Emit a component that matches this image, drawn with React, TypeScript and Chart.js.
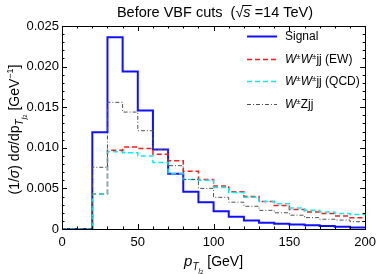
import React, { useEffect, useRef } from 'react';
import { Chart, registerables } from 'chart.js';

Chart.register(...registerables);

// Bin left edges (GeV) plus the final right edge
const binEdges = [0, 10, 20, 30, 40, 50, 60, 70, 80, 90, 100, 110, 120, 130, 140, 150, 160, 170, 180, 190, 200];

const signal = [0, 0, 0.0119, 0.0236, 0.0194, 0.0146, 0.0098, 0.0068, 0.0046, 0.0033, 0.0022, 0.0015, 0.00105, 0.00076, 0.00066, 0.00055, 0.00045, 0.00036, 0.00028, 0.00018];
const wwEW = [0, 0, 0.0043, 0.0097, 0.0101, 0.0099, 0.0092, 0.0084, 0.0071, 0.0061, 0.0053, 0.0046, 0.0040, 0.0034, 0.0029, 0.0024, 0.0021, 0.0019, 0.0016, 0.0014];
const wwQCD = [0, 0, 0.0043, 0.0095, 0.0094, 0.0090, 0.0082, 0.0068, 0.0061, 0.0060, 0.0051, 0.0045, 0.0039, 0.0034, 0.0031, 0.0026, 0.0023, 0.0021, 0.0019, 0.0018];
const wzjj = [0, 0, 0.0076, 0.0156, 0.0144, 0.0121, 0.0098, 0.0078, 0.0061, 0.0050, 0.0039, 0.0033, 0.0028, 0.0023, 0.0020, 0.0017, 0.0014, 0.0012, 0.0011, 0.0009];

const xTickValues = [0, 50, 100, 150, 200];
const yTickValues = [0, 0.005, 0.01, 0.015, 0.02, 0.025];

const FONT = '"Liberation Sans", Arial, Helvetica, sans-serif';

const COLORS = {
  signal: '#1010ff',
  ew: '#ff1a1a',
  qcd: '#00f0f8',
  wz: '#505050',
};

function toSteps(vals: number[]) {
  return binEdges.map((x, i) => ({ x, y: vals[Math.min(i, vals.length - 1)] }));
}

type Part = { t: string; size: number; italic?: boolean; dy?: number; overline?: boolean };

function fontOf(p: Part) {
  return `${p.italic ? 'italic ' : ''}${p.size}px ${FONT}`;
}

function drawParts(ctx: CanvasRenderingContext2D, x: number, y: number, parts: Part[], align: 'left' | 'center') {
  let w = 0;
  for (const p of parts) {
    ctx.font = fontOf(p);
    w += ctx.measureText(p.t).width;
  }
  let cx = align === 'center' ? x - w / 2 : x;
  ctx.textAlign = 'left';
  ctx.textBaseline = 'alphabetic';
  for (const p of parts) {
    ctx.font = fontOf(p);
    const pw = ctx.measureText(p.t).width;
    ctx.fillText(p.t, cx, y + (p.dy || 0));
    if (p.overline) {
      ctx.save();
      ctx.lineWidth = 1;
      ctx.beginPath();
      const oy = Math.round(y - p.size * 0.86) + 0.5;
      ctx.moveTo(cx - 1, oy);
      ctx.lineTo(cx + pw + 1, oy);
      ctx.stroke();
      ctx.restore();
    }
    cx += pw;
  }
}

const legendItems: { parts: Part[]; color: string; dash: number[]; width: number }[] = [
  { parts: [{ t: 'Signal', size: 12 }], color: COLORS.signal, dash: [], width: 2 },
  {
    parts: [
      { t: 'W', size: 12, italic: true },
      { t: '±', size: 8, dy: -4 },
      { t: 'W', size: 12, italic: true },
      { t: '±', size: 8, dy: -4 },
      { t: 'jj (EW)', size: 12 },
    ],
    color: COLORS.ew,
    dash: [5, 3],
    width: 1.5,
  },
  {
    parts: [
      { t: 'W', size: 12, italic: true },
      { t: '±', size: 8, dy: -4 },
      { t: 'W', size: 12, italic: true },
      { t: '±', size: 8, dy: -4 },
      { t: 'jj (QCD)', size: 12 },
    ],
    color: COLORS.qcd,
    dash: [5, 3],
    width: 1.5,
  },
  {
    parts: [
      { t: 'W', size: 12, italic: true },
      { t: '±', size: 8, dy: -4 },
      { t: 'Zjj', size: 12 },
    ],
    color: COLORS.wz,
    dash: [4, 2, 1, 2],
    width: 1,
  },
];

const decorPlugin = {
  id: 'decor',
  afterDraw(chart: any) {
    const ctx: CanvasRenderingContext2D = chart.ctx;
    const { left, right, top, bottom } = chart.chartArea;
    const xs = chart.scales.x;
    const ys = chart.scales.y;
    ctx.save();
    ctx.fillStyle = '#000';
    ctx.strokeStyle = '#000';

    // frame
    ctx.lineWidth = 1;
    ctx.strokeRect(Math.round(left) + 0.5, Math.round(top) + 0.5, Math.round(right - left), Math.round(bottom - top));

    // inward ticks on all sides
    ctx.beginPath();
    for (let v = 0; v <= 200.001; v += 10) {
      const px = Math.round(xs.getPixelForValue(v)) + 0.5;
      const len = Math.abs(v % 50) < 0.001 ? 5 : 2.5;
      ctx.moveTo(px, bottom);
      ctx.lineTo(px, bottom - len);
      ctx.moveTo(px, top);
      ctx.lineTo(px, top + len);
    }
    for (let i = 0; i <= 25; i++) {
      const v = i * 0.001;
      const py = Math.round(ys.getPixelForValue(v)) + 0.5;
      const len = i % 5 === 0 ? 5 : 2.5;
      ctx.moveTo(left, py);
      ctx.lineTo(left + len, py);
      ctx.moveTo(right, py);
      ctx.lineTo(right - len, py);
    }
    ctx.stroke();

    // title
    const tParts: Part[] = [
      { t: 'Before VBF cuts  (', size: 14.5 },
      { t: '√', size: 14.5 },
      { t: 's', size: 14.5, italic: true, overline: true },
      { t: ' =14 TeV)', size: 14.5 },
    ];
    drawParts(ctx, 215, 17, tParts, 'center');

    // x-axis title
    drawParts(
      ctx,
      (left + right) / 2,
      266,
      [
        { t: 'p', size: 15, italic: true },
        { t: 'T', size: 10, italic: true, dy: 4 },
        { t: 'j', size: 7, italic: true, dy: 7 },
        { t: '2', size: 6, dy: 8 },
        { t: ' [GeV]', size: 14 },
      ],
      'center'
    );

    // y-axis title (rotated)
    ctx.save();
    ctx.translate(19, (top + bottom) / 2 + 2);
    ctx.rotate(-Math.PI / 2);
    drawParts(
      ctx,
      0,
      0,
      [
        { t: '(1/', size: 14 },
        { t: 'σ', size: 14, italic: true },
        { t: ') d', size: 14 },
        { t: 'σ', size: 14, italic: true },
        { t: '/dp', size: 14 },
        { t: 'T', size: 10, italic: true, dy: 4 },
        { t: 'j', size: 7, italic: true, dy: 7 },
        { t: '2', size: 6, dy: 8 },
        { t: ' [GeV', size: 14 },
        { t: '−1', size: 9, dy: -6 },
        { t: ']', size: 14 },
      ],
      'center'
    );
    ctx.restore();

    // legend
    const rowY = [36, 58.5, 81, 103.5];
    legendItems.forEach((it, i) => {
      const y = rowY[i];
      ctx.save();
      ctx.strokeStyle = it.color;
      ctx.lineWidth = it.width;
      ctx.setLineDash(it.dash);
      ctx.beginPath();
      ctx.moveTo(247, Math.round(y) + 0.5);
      ctx.lineTo(277, Math.round(y) + 0.5);
      ctx.stroke();
      ctx.restore();
      ctx.fillStyle = '#000';
      drawParts(ctx, 285, y + 4, it.parts, 'left');
    });

    ctx.restore();
  },
};

export default function App() {
  const canvasRef = useRef<HTMLCanvasElement | null>(null);

  useEffect(() => {
    if (!canvasRef.current) return;
    const mk = (label: string, vals: number[], color: string, dash: number[], width: number, order: number) => ({
      label,
      data: toSteps(vals),
      borderColor: color,
      backgroundColor: color,
      borderWidth: width,
      borderDash: dash,
      stepped: 'before' as const,
      pointRadius: 0,
      fill: false,
      order,
    });
    const chart = new Chart(canvasRef.current, {
      type: 'line',
      data: {
        datasets: [
          mk('Signal', signal, COLORS.signal, [], 2, 4),
          mk('W±W±jj (EW)', wwEW, COLORS.ew, [5, 3], 1.5, 3),
          mk('W±W±jj (QCD)', wwQCD, COLORS.qcd, [5, 3], 1.5, 2),
          mk('W±Zjj', wzjj, COLORS.wz, [4, 2, 1, 2], 1, 1),
        ],
      },
      options: {
        animation: false,
        responsive: false,
        maintainAspectRatio: false,
        layout: { padding: { left: 0, right: 12, top: 26, bottom: 0 } },
        plugins: {
          legend: { display: false },
          title: { display: false },
          tooltip: { enabled: false },
        },
        scales: {
          x: {
            type: 'linear',
            min: 0,
            max: 200,
            afterBuildTicks: (scale: any) => {
              scale.ticks = xTickValues.map((v) => ({ value: v }));
            },
            afterFit: (scale: any) => {
              scale.height = 45;
            },
            grid: { display: false, drawTicks: false },
            border: { display: false },
            ticks: {
              color: '#000',
              padding: 6,
              font: { family: FONT, size: 13 },
              maxRotation: 0,
              callback: (v: any) => String(v),
            },
          },
          y: {
            type: 'linear',
            min: 0,
            max: 0.025,
            afterBuildTicks: (scale: any) => {
              scale.ticks = yTickValues.map((v) => ({ value: v }));
            },
            afterFit: (scale: any) => {
              scale.width = 62;
            },
            grid: { display: false, drawTicks: false },
            border: { display: false },
            ticks: {
              color: '#000',
              padding: 3,
              font: { family: FONT, size: 13 },
              callback: (v: any) => (Number(v) === 0 ? '0' : Number(v).toFixed(3)),
            },
          },
        },
      },
      plugins: [decorPlugin],
    });
    return () => chart.destroy();
  }, []);

  return (
    <div style={{ position: 'fixed', left: 0, top: 0, width: 382, height: 274, background: '#fff' }}>
      <canvas ref={canvasRef} width={382} height={274} style={{ display: 'block', width: 382, height: 274 }} />
    </div>
  );
}
